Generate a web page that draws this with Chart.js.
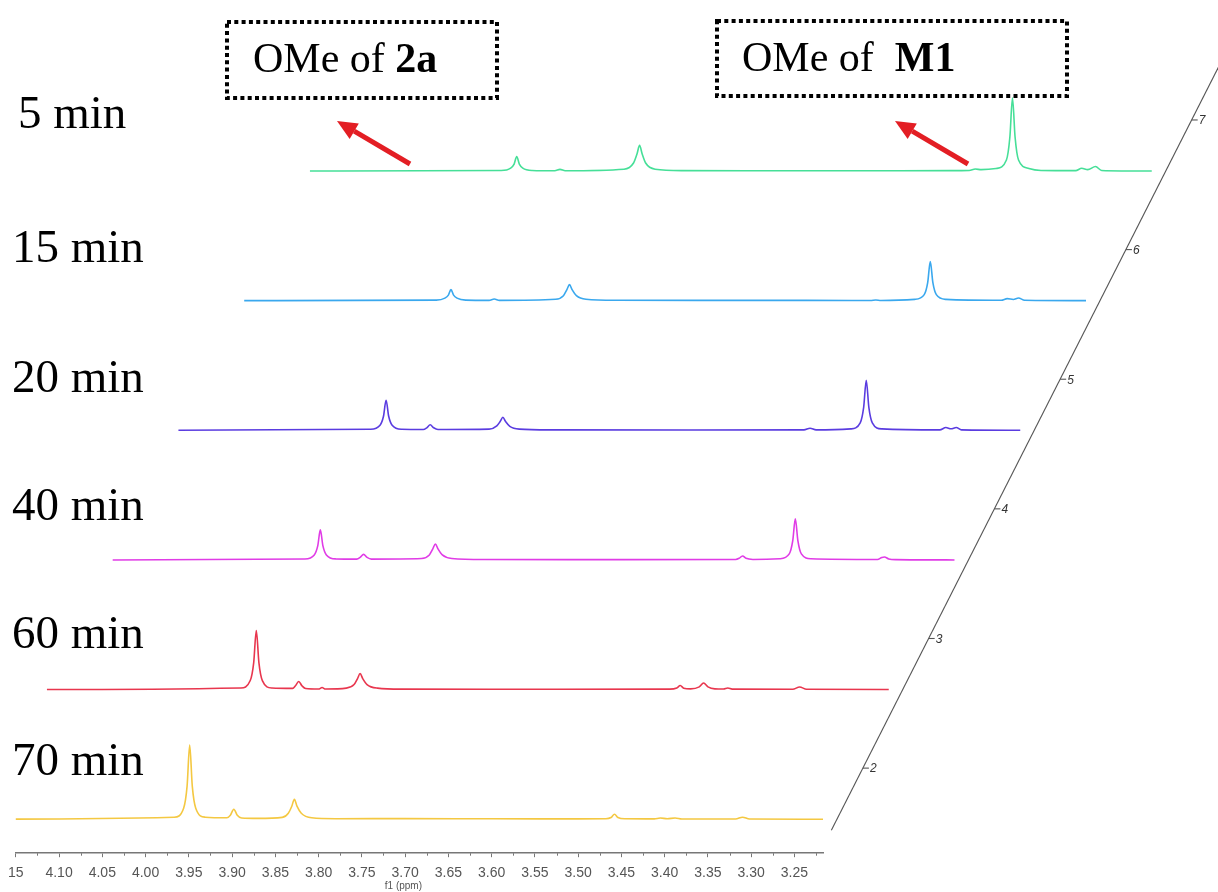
<!DOCTYPE html>
<html><head><meta charset="utf-8">
<script src="https://cdn.jsdelivr.net/npm/chart.js@4.4.1/dist/chart.umd.min.js"></script>
<style>
html,body{margin:0;padding:0;background:#fff;}
#wrap{position:relative;width:1218px;height:892px;overflow:hidden;background:#fff;}
canvas{position:absolute;left:0;top:0;}
.t{position:absolute;font-family:"Liberation Serif","Times New Roman",serif;font-size:47px;line-height:47px;color:#000;white-space:pre;}
.b{position:absolute;font-family:"Liberation Serif","Times New Roman",serif;font-size:42px;line-height:42px;color:#000;white-space:pre;}
.b b{font-weight:bold;}
</style></head><body>
<div id="wrap">
<canvas id="c" width="1218" height="892"></canvas>
<div class="t" style="left:18px;top:89px">5 min</div>
<div class="t" style="left:12px;top:223px">15 min</div>
<div class="t" style="left:12px;top:353px">20 min</div>
<div class="t" style="left:12px;top:481px">40 min</div>
<div class="t" style="left:12px;top:609px">60 min</div>
<div class="t" style="left:12px;top:736px">70 min</div>
<div class="b" style="left:253px;top:37px">OMe of <b>2a</b></div>
<div class="b" style="left:742px;top:36px">OMe of  <b>M1</b></div>
</div>
<script>
// ---- data (ppm, relative intensity) ----
const timeLabels = ['70 min','60 min','40 min','20 min','15 min','5 min'];
const colors = ['#f4c842','#e8364e','#e03ce6','#5a3ce0','#3aa8ee','#46df98'];

const trace70 = [[4.19,0],[3.967,0.02],[3.956,0.11],[3.952,0.33],[3.949,0.74],[3.946,0.33],[3.942,0.11],[3.931,0.02],
[3.906,0.015],[3.902,0.04],[3.898,0.10],[3.894,0.04],[3.889,0.012],
[3.870,0.008],[3.842,0.018],[3.835,0.06],[3.831,0.13],[3.828,0.20],[3.825,0.13],[3.820,0.06],[3.808,0.014],
[3.780,0.005],[3.70,0.006],[3.60,0.004],[3.50,0.003],[3.468,0.004],[3.462,0.017],[3.458,0.05],[3.454,0.017],[3.446,0.004],
[3.412,0.003],[3.405,0.012],[3.397,0.004],[3.388,0.012],[3.380,0.002],[3.318,0.002],[3.310,0.02],[3.302,0.002],[3.217,0]];

const trace60 = [[4.19,0],[3.966,0.016],[3.955,0.09],[3.951,0.27],[3.948,0.59],[3.945,0.27],[3.941,0.09],[3.930,0.016],
[3.906,0.012],[3.903,0.035],[3.899,0.08],[3.895,0.035],[3.891,0.01],
[3.876,0.005],[3.872,0.02],[3.868,0.005],
[3.844,0.014],[3.835,0.05],[3.831,0.11],[3.828,0.16],[3.825,0.11],[3.820,0.05],[3.808,0.014],
[3.78,0.004],[3.60,0.003],[3.47,0.004],[3.462,0.016],[3.458,0.04],[3.454,0.014],[3.446,0.007],[3.436,0.027],[3.431,0.065],[3.426,0.027],[3.418,0.007],
[3.408,0.005],[3.403,0.015],[3.398,0.004],[3.328,0.003],[3.320,0.026],[3.312,0.003],[3.217,0]];

const trace40 = [[4.19,0],[3.968,0.01],[3.957,0.05],[3.953,0.14],[3.950,0.30],[3.947,0.14],[3.943,0.05],[3.932,0.01],
[3.908,0.008],[3.904,0.025],[3.900,0.056],[3.896,0.025],[3.891,0.008],
[3.833,0.014],[3.824,0.05],[3.820,0.11],[3.817,0.16],[3.814,0.11],[3.809,0.05],[3.798,0.014],
[3.76,0.004],[3.60,0.003],[3.47,0.004],[3.466,0.016],[3.462,0.04],[3.458,0.016],[3.450,0.005],
[3.419,0.012],[3.408,0.06],[3.404,0.19],[3.401,0.41],[3.398,0.19],[3.394,0.06],[3.383,0.012],
[3.306,0.005],[3.301,0.025],[3.298,0.03],[3.293,0.01],[3.285,0.003],[3.217,0]];

const trace20 = [[4.19,0],[3.968,0.01],[3.957,0.05],[3.953,0.14],[3.950,0.30],[3.947,0.14],[3.943,0.05],[3.932,0.01],
[3.907,0.008],[3.903,0.025],[3.899,0.055],[3.895,0.025],[3.890,0.008],
[3.831,0.012],[3.822,0.045],[3.818,0.09],[3.815,0.13],[3.812,0.09],[3.807,0.04],[3.796,0.012],
[3.76,0.004],[3.60,0.003],[3.467,0.004],[3.460,0.02],[3.453,0.004],
[3.413,0.014],[3.402,0.075],[3.398,0.23],[3.395,0.50],[3.392,0.23],[3.388,0.075],[3.377,0.014],
[3.310,0.004],[3.303,0.028],[3.297,0.015],[3.291,0.028],[3.285,0.004],[3.217,0]];

const trace15 = [[4.19,0],[3.968,0.005],[3.958,0.025],[3.954,0.055],[3.951,0.11],[3.948,0.055],[3.944,0.025],[3.934,0.005],
[3.907,0.003],[3.901,0.016],[3.895,0.003],
[3.830,0.014],[3.821,0.05],[3.817,0.11],[3.814,0.16],[3.811,0.11],[3.806,0.05],[3.795,0.014],
[3.76,0.004],[3.60,0.003],[3.466,0.002],[3.460,0.007],[3.454,0.002],
[3.415,0.013],[3.404,0.06],[3.400,0.18],[3.397,0.39],[3.394,0.18],[3.390,0.06],[3.379,0.013],
[3.315,0.004],[3.308,0.02],[3.301,0.012],[3.295,0.026],[3.288,0.004],[3.217,0]];

const trace5 = [[4.19,0],[3.969,0.006],[3.958,0.03],[3.954,0.07],[3.951,0.146],[3.948,0.07],[3.944,0.03],[3.933,0.006],
[3.907,0.003],[3.901,0.017],[3.895,0.003],
[3.827,0.018],[3.816,0.08],[3.812,0.17],[3.809,0.257],[3.806,0.17],[3.802,0.08],[3.791,0.018],
[3.76,0.004],[3.60,0.003],[3.45,0.004],[3.428,0.006],[3.421,0.02],[3.414,0.014],
[3.397,0.025],[3.385,0.11],[3.381,0.34],[3.378,0.73],[3.375,0.34],[3.371,0.11],[3.359,0.025],
[3.345,0.006],[3.305,0.004],[3.298,0.028],[3.291,0.014],[3.282,0.045],[3.275,0.006],[3.217,0]];

const traces = [trace70, trace60, trace40, trace20, trace15, trace5];
const xTicks = [4.15,4.10,4.05,4.00,3.95,3.90,3.85,3.80,3.75,3.70,3.65,3.60,3.55,3.50,3.45,3.40,3.35,3.30,3.25];
const zTicks = [2,3,4,5,6,7];

// ---- layout parameters ----
const PPM_MAX = 4.15, PPM_MIN = 3.217;
const LEVEL_PPM = 0.076;     // horizontal stacking offset per trace (ppm)
const LEVEL_INT = 1.296;     // vertical stacking offset per trace (intensity units)
const Y_MIN = -0.34, Y_SPAN = 8.53;
const Z0 = 1.606;            // stack-axis value of the first trace baseline

const scales = {};
const datasets = traces.map((tr, k) => {
  scales['x' + k] = {
    type: 'linear', reverse: true, display: k === 0, position: 'bottom',
    min: PPM_MIN + k * LEVEL_PPM, max: PPM_MAX + k * LEVEL_PPM,
    afterBuildTicks: k === 0 ? (ax) => { ax.ticks = xTicks.map(v => ({value: v})); } : undefined,
    grid: {drawOnChartArea: false, drawTicks: true, tickLength: 4, color: '#777', lineWidth: 1},
    border: {display: true, color: '#777', width: 1.5},
    ticks: {autoSkip: false, maxRotation: 0, padding: 8, color: '#555',
      font: {family: 'Liberation Sans, Arial, sans-serif', size: 14},
      callback: (v) => (Math.abs(v - 4.15) < 1e-9 ? '15' : Number(v).toFixed(2))}
  };
  scales['y' + k] = {type: 'linear', display: false,
    min: Y_MIN - k * LEVEL_INT, max: Y_MIN - k * LEVEL_INT + Y_SPAN};
  return {
    label: timeLabels[k],
    data: tr.map(p => ({x: p[0], y: p[1]})),
    xAxisID: 'x' + k, yAxisID: 'y' + k,
    borderColor: colors[k], borderWidth: 1.6,
    pointRadius: 0, fill: false,
    cubicInterpolationMode: 'monotone',
    clip: {left: 0, top: false, right: false, bottom: false}
  };
});

const decor = {
  id: 'decor',
  afterDraw(chart) {
    const ctx = chart.ctx;
    const x0 = chart.scales.x0, y0 = chart.scales.y0, x1 = chart.scales.x1, y1 = chart.scales.y1;
    const yb = chart.chartArea.bottom;
    ctx.save();
    // minor ticks
    ctx.strokeStyle = '#777'; ctx.lineWidth = 1;
    const minors = [];
    for (let i = 0; i < xTicks.length - 1; i++) minors.push((xTicks[i] + xTicks[i + 1]) / 2);
    minors.push(xTicks[xTicks.length - 1] - 0.025);
    minors.forEach(m => {
      const px = Math.round(x0.getPixelForValue(m)) + 0.5;
      ctx.beginPath(); ctx.moveTo(px, yb); ctx.lineTo(px, yb + 2.5); ctx.stroke();
    });
    // axis title
    ctx.fillStyle = '#555';
    ctx.font = '10px "Liberation Sans", Arial, sans-serif';
    ctx.textAlign = 'center'; ctx.textBaseline = 'middle';
    ctx.fillText('f1 (ppm)', x0.getPixelForValue(3.702), 886);

    // slanted stack axis
    const dx = x1.getPixelForValue(3.5) - x0.getPixelForValue(3.5);
    const dy = y1.getPixelForValue(0) - y0.getPixelForValue(0);
    const ox = x0.getPixelForValue(PPM_MIN) + 14, oy = y0.getPixelForValue(0);
    const pt = z => [ox + (z - Z0) * dx, oy + (z - Z0) * dy];
    ctx.strokeStyle = '#555'; ctx.lineWidth = 1.1;
    const a = pt(1.52), b = pt(7.7);
    ctx.beginPath(); ctx.moveTo(a[0], a[1]); ctx.lineTo(b[0], b[1]); ctx.stroke();
    ctx.font = 'italic 12px "Liberation Sans", Arial, sans-serif';
    ctx.fillStyle = '#333'; ctx.textAlign = 'left';
    zTicks.forEach(n => {
      const p = pt(n);
      ctx.beginPath(); ctx.moveTo(p[0], p[1]); ctx.lineTo(p[0] + 6, p[1]); ctx.stroke();
      ctx.fillText(String(n), p[0] + 7, p[1] + 1);
    });

    // dotted annotation boxes
    ctx.strokeStyle = '#000'; ctx.lineWidth = 4; ctx.setLineDash([4, 3.3]);
    ctx.strokeRect(227, 22, 270, 76);
    ctx.strokeRect(717, 21, 350, 75);
    ctx.setLineDash([]);

    // red arrows
    const arrow = (x1a, y1a, x2a, y2a) => {
      const ang = Math.atan2(y2a - y1a, x2a - x1a);
      const hl = 20, hw = 9;
      const bx = x2a - hl * Math.cos(ang), by = y2a - hl * Math.sin(ang);
      ctx.strokeStyle = '#e31e24'; ctx.fillStyle = '#e31e24'; ctx.lineWidth = 5;
      ctx.beginPath(); ctx.moveTo(x1a, y1a); ctx.lineTo(bx, by); ctx.stroke();
      ctx.beginPath(); ctx.moveTo(x2a, y2a);
      ctx.lineTo(bx + hw * Math.sin(ang), by - hw * Math.cos(ang));
      ctx.lineTo(bx - hw * Math.sin(ang), by + hw * Math.cos(ang));
      ctx.closePath(); ctx.fill();
    };
    arrow(410, 164, 337, 121);
    arrow(968, 164, 895, 121);
    ctx.restore();
  }
};

new Chart(document.getElementById('c'), {
  type: 'line',
  data: {datasets},
  options: {
    responsive: false, animation: false, devicePixelRatio: 1,
    events: [],
    layout: {padding: {left: 15, right: 395, top: 0, bottom: 2}},
    plugins: {legend: {display: false}, tooltip: {enabled: false}, title: {display: false}},
    scales
  },
  plugins: [decor]
});
</script>
</body></html>
